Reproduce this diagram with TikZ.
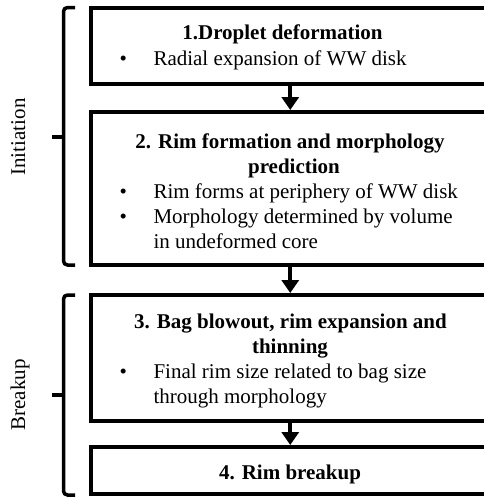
\documentclass[tikz,border=0pt]{standalone}
\usepackage{fontspec}
\setmainfont{Liberation Serif}
\usetikzlibrary{arrows.meta}
\begin{document}
\begin{tikzpicture}[x=1pt,y=-1pt,
  box/.style={draw, line width=4pt, minimum width=399.5pt, inner sep=0pt},
  ttl/.style={font=\fontsize{21}{25}\selectfont\bfseries, anchor=base, inner sep=0pt},
  txt/.style={font=\fontsize{21}{25}\selectfont, anchor=base west, inner sep=0pt},
  bul/.style={font=\fontsize{21}{25}\selectfont, anchor=base, inner sep=0pt},
  arr/.style={line width=4pt, -{Triangle[width=17pt,length=13pt]}},
  brace/.style={line width=3.5pt, rounded corners=4pt},
  side/.style={font=\fontsize{21}{25}\selectfont, rotate=90, anchor=base, inner sep=0pt}]
\useasboundingbox (0,0) rectangle (483,498);
% boxes
\node[box, minimum height=76pt]  (b1) at (290.25,46) {};
\node[box, minimum height=153pt] (b2) at (290.25,188.5) {};
\node[box, minimum height=126pt] (b3) at (290.25,358) {};
\node[box, minimum height=47pt]  (b4) at (290.25,470.5) {};
% box 1
\node[ttl] (t1) at (282.5,39) {1.Droplet deformation};
\node[bul] (p1) at (123.3,65.7) {•};
\node[txt] (s1) at (153.3,65.7) {Radial expansion of WW disk};
% box 2
\node[ttl] (t2a) at (290,148.3) {2. Rim formation and morphology};
\node[ttl] (t2b) at (294,173.3) {prediction};
\node[bul] (p2a) at (123.3,198.3) {•};
\node[txt] (s2a) at (153.3,198.3) {Rim forms at periphery of WW disk};
\node[bul] (p2b) at (123.3,223.3) {•};
\node[txt] (s2b) at (153.3,223.3) {Morphology determined by volume};
\node[txt] (s2c) at (153.3,248.3) {in undeformed core};
% box 3
\node[ttl] (t3a) at (290.5,328.3) {3. Bag blowout, rim expansion and};
\node[ttl] (t3b) at (290,353.3) {thinning};
\node[bul] (p3a) at (123.3,378.3) {•};
\node[txt] (s3a) at (153.3,378.3) {Final rim size related to bag size};
\node[txt] (s3b) at (153.3,403.3) {through morphology};
% box 4
\node[ttl] (t4) at (290,479) {4. Rim breakup};
% arrows
\draw[arr] (b1.south) -- (b2.north);
\draw[arr] (b2.south) -- (b3.north);
\draw[arr] (b3.south) -- (b4.north);
% braces
\draw[brace] (75,7.5) -- (63.5,7.5) -- (63.5,265) -- (75,265);
\draw[line width=4pt] (63.5,137) -- (52,137);
\draw[brace] (75,295) -- (63.5,295) -- (63.5,495) -- (75,495);
\draw[line width=4pt] (63.5,395) -- (52,395);
% side labels
\node[side] (l1) at (25,137) {Initiation};
\node[side] (l2) at (25,395) {Breakup};
\end{tikzpicture}
\end{document}
